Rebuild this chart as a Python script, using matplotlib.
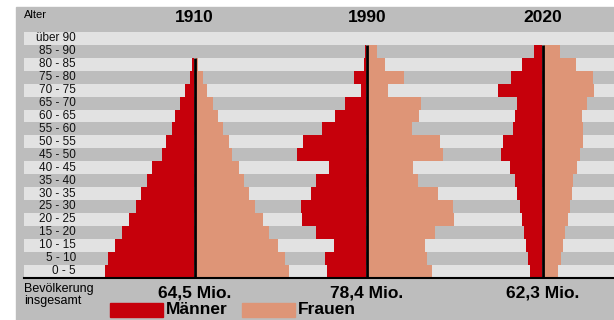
import numpy as np
import matplotlib
matplotlib.use('Agg')
import matplotlib.pyplot as plt
from matplotlib.patches import Rectangle

plt.rcParams['font.family'] = ['Liberation Sans', 'DejaVu Sans']

# Altersgruppen, von unten nach oben
ages = ['0 - 5', '5 - 10', '10 - 15', '15 - 20', '20 - 25', '25 - 30', '30 - 35',
        '35 - 40', '40 - 45', '45 - 50', '50 - 55', '55 - 60', '60 - 65', '65 - 70',
        '70 - 75', '75 - 80', '80 - 85', '85 - 90', 'über 90']
years = ['1910', '1990', '2020']
totals = ['64,5 Mio.', '78,4 Mio.', '62,3 Mio.']

# Balkenlaengen (relative Einheiten)
men_1910 = [89, 86, 79, 72, 65, 58, 53, 47, 42, 32, 28, 22, 19, 14, 9, 4, 2, 0, 0]
women_1910 = [93, 89, 82, 73, 67, 59, 53, 48, 43, 36, 33, 27, 22, 17, 11, 7, 2, 0, 0]
men_1990 = [39, 41, 32, 50, 64, 65, 55, 50, 37, 69, 63, 44, 31, 21, 5, 12, 2, 1, 0]
women_1990 = [64, 59, 57, 67, 86, 85, 70, 50, 45, 75, 72, 44, 51, 53, 20, 36, 17, 9, 0]
men_2020 = [12, 14, 16, 18, 20, 22, 25, 27, 32, 41, 39, 29, 27, 25, 44, 31, 20, 8, 0]
women_2020 = [14, 17, 19, 21, 24, 26, 28, 29, 33, 36, 39, 39, 38, 43, 50, 49, 32, 16, 0]

men = [men_1910, men_1990, men_2020]
women = [women_1910, women_1990, women_2020]

W, H = 614, 320
RED = '#c6000b'
SALMON = '#de9577'
LIGHT = '#e2e2e2'
GRAY = '#bdbdbd'


def fx(x):
    return x / W


def fy(y):
    return 1 - y / H


fig = plt.figure(figsize=(W / 100, H / 100), dpi=100)
fig.patch.set_facecolor('white')
fig.patches.append(Rectangle((fx(16), 0), 1, fy(7), transform=fig.transFigure,
                             color=GRAY, zorder=-5))

ax = fig.add_axes([fx(24), fy(277.5), 1 - fx(24), (277.5 - 32) / H])
ax.set_zorder(1)
ax.patch.set_alpha(0)
ax.set_xlim(24, W)
ax.set_ylim(-0.5, 18.5)
ax.axis('off')

rows = np.arange(len(ages))
ax.barh(rows[::2], W - 24, left=24, height=1, color=LIGHT, zorder=1)

centers = [194.5, 367, 543]
line_top = [16.5, 17.5, 17.5]
for c, m, w, top in zip(centers, men, women, line_top):
    ax.barh(rows, -np.array(m), left=c - 1, height=1, color=RED, zorder=2)
    ax.barh(rows, w, left=c + 1.2, height=1, color=SALMON, zorder=2)
    ax.vlines(c, -0.5, top, color='black', lw=2, zorder=3)

ax.axhline(-0.5, color='black', lw=1.5, clip_on=False, zorder=4)

for r, lab in zip(rows, ages):
    ax.text(76, r, lab, ha='right', va='center', fontsize=8.5, color='#111111')

fig.text(fx(24), fy(15), 'Alter', fontsize=8, ha='left', va='center')
for c, yr, tot in zip(centers, years, totals):
    fig.text(fx(c), fy(18), yr, fontsize=12.5, fontweight='bold', ha='center', va='center')
    fig.text(fx(c), fy(293), tot, fontsize=12.5, fontweight='bold', ha='center', va='center')

fig.text(fx(24), fy(289), 'Bevölkerung', fontsize=9, ha='left', va='center')
fig.text(fx(24), fy(301), 'insgesamt', fontsize=9, ha='left', va='center')

fig.patches.append(Rectangle((fx(110), fy(317)), fx(53), 14 / H,
                             transform=fig.transFigure, color=RED, zorder=2))
fig.text(fx(166), fy(310), 'Männer', fontsize=12.5, fontweight='bold', ha='left', va='center')
fig.patches.append(Rectangle((fx(242), fy(317)), fx(53), 14 / H,
                             transform=fig.transFigure, color=SALMON, zorder=2))
fig.text(fx(298), fy(310), 'Frauen', fontsize=12.5, fontweight='bold', ha='left', va='center')

fig.savefig('out.png', dpi=100)
